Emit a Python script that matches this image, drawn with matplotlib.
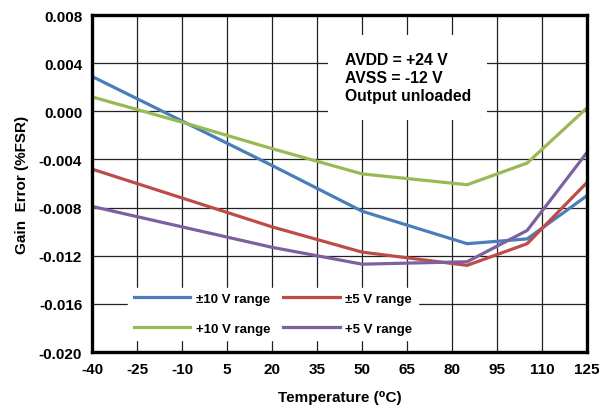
import matplotlib.pyplot as plt

plt.rcParams['font.family'] = ['Liberation Sans', 'DejaVu Sans']
plt.rcParams['font.weight'] = 'bold'
plt.rcParams['axes.unicode_minus'] = False

temps = [-40, -10, 20, 50, 85, 105, 125]
pm10 = [0.0029, -0.0008, -0.0045, -0.0083, -0.0110, -0.0106, -0.0070]
pm5 = [-0.0048, -0.0072, -0.0096, -0.0117, -0.0128, -0.0110, -0.0059]
p10 = [0.0012, -0.0009, -0.0031, -0.0052, -0.0061, -0.0043, 0.0003]
p5 = [-0.0079, -0.0096, -0.0113, -0.0127, -0.0125, -0.0099, -0.0034]

xticks = list(range(-40, 126, 15))
yticks = [0.008, 0.004, 0.000, -0.004, -0.008, -0.012, -0.016, -0.020]

fig = plt.figure(figsize=(6.01, 4.06), dpi=100)
ax = fig.add_axes([0.153, 0.1305, 0.824, 0.830])

lw = 2.3
l1, = ax.plot(temps, pm10, color='#4A7EBB', lw=lw, label='±10 V range')
l2, = ax.plot(temps, pm5, color='#BE4B48', lw=lw, label='±5 V range')
l3, = ax.plot(temps, p10, color='#98B954', lw=lw, label='+10 V range')
l4, = ax.plot(temps, p5, color='#7D60A0', lw=lw, label='+5 V range')

ax.set_xlim(-40, 125)
ax.set_ylim(-0.020, 0.008)
ax.set_xticks(xticks)
ax.set_yticks(yticks)
ax.set_yticklabels(['%.3f' % v for v in yticks])
ax.tick_params(length=0, labelsize=11, pad=7)
for lab in ax.get_xticklabels() + ax.get_yticklabels():
    lab.set_fontweight('bold')
ax.grid(True, color='#222222', lw=0.9)
ax.set_axisbelow(True)
for s in ax.spines.values():
    s.set_linewidth(2.4)

ax.set_xlabel('Temperature (⁰C)', fontsize=11, fontweight='bold', labelpad=10)
ax.set_ylabel('Gain  Error (%FSR)', fontsize=11, fontweight='bold', labelpad=7)

leg = ax.legend([l1, l3, l2, l4], [l1.get_label(), l3.get_label(), l2.get_label(), l4.get_label()],
                ncol=2, loc='lower left', bbox_to_anchor=(0.06, 0.015),
                frameon=True, fancybox=False, framealpha=1, edgecolor='white',
                fontsize=9.5, handlelength=4.3, columnspacing=1.0, labelspacing=1.35,
                handletextpad=0.4)
for t in leg.get_texts():
    t.set_fontweight('bold')

ax.text(0.51, 0.89, 'AVDD = +24 V\nAVSS = -12 V\nOutput unloaded',
        transform=ax.transAxes, fontsize=11.3, fontweight='bold', va='top', ha='left',
        linespacing=1.25,
        bbox=dict(facecolor='white', edgecolor='none', pad=12))

fig.savefig('out.png', dpi=100)
